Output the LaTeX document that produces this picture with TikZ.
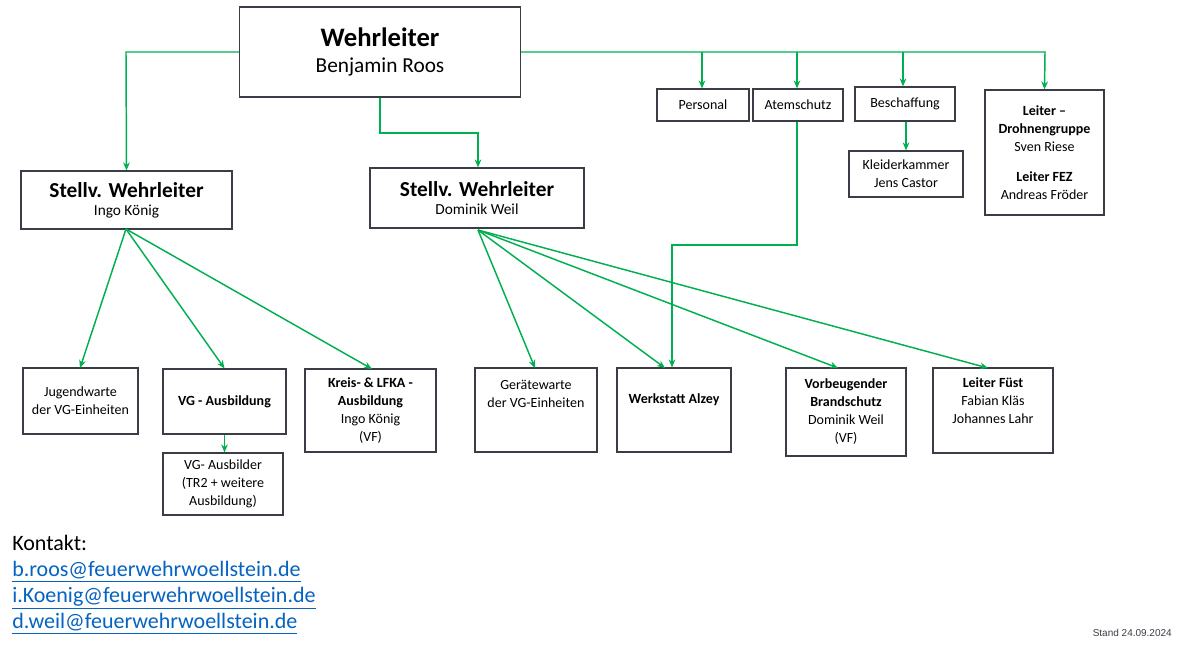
\documentclass[tikz,border=0pt]{standalone}
\usepackage{fontspec}
\setmainfont{Carlito}
\newfontfamily\arialf{Liberation Sans}
\usetikzlibrary{arrows.meta}
\definecolor{gr}{RGB}{0,176,80}
\definecolor{bc}{RGB}{60,60,70}
\definecolor{lk}{RGB}{5,99,193}
\begin{document}
\begin{tikzpicture}[x=0.75pt,y=-0.75pt,
  box/.style={draw=bc,line width=0.9pt,align=center,inner sep=0pt,font=\fontsize{10.5}{13.5}\selectfont},
  con/.style={draw=gr,line width=1.1pt},
  arr/.style={con,-{Stealth[length=6pt,width=5pt]}}]
\useasboundingbox[fill=white] (0,0) rectangle (1180,651);
\node[box,minimum width=281*0.75pt,minimum height=90*0.75pt] (wl) at (380,52) {{\fontsize{20}{24}\selectfont\bfseries Wehrleiter}\\[6pt]{\fontsize{16}{18}\selectfont Benjamin Roos}};
\node[box,minimum width=211*0.75pt,minimum height=58*0.75pt] (ik) at (126.5,200) {{\fontsize{16}{19}\selectfont\bfseries Stellv. Wehrleiter}\\{\fontsize{11.5}{14}\selectfont Ingo König}};
\node[box,minimum width=214*0.75pt,minimum height=60*0.75pt] (dw) at (477,198) {{\fontsize{16}{19}\selectfont\bfseries Stellv. Wehrleiter}\\{\fontsize{11.5}{14}\selectfont Dominik Weil}};
\node[box,minimum width=92*0.75pt,minimum height=32*0.75pt] (pe) at (703,105) {Personal};
\node[box,minimum width=90*0.75pt,minimum height=32*0.75pt] (at) at (798,105) {Atemschutz};
\node[box,minimum width=100*0.75pt,minimum height=34*0.75pt] (be) at (905,104) {Beschaffung};
\node[box,minimum width=114*0.75pt,minimum height=46*0.75pt] (kk) at (906,174) {Kleiderkammer\\Jens Castor};
\node[box,minimum width=119*0.75pt,minimum height=125*0.75pt] (dr) at (1044.5,152.5) {\textbf{Leiter --}\\\textbf{Drohnengruppe}\\Sven Riese\\[9pt]\textbf{Leiter FEZ}\\Andreas Fröder};
\node[box,minimum width=115*0.75pt,minimum height=66*0.75pt] (jw) at (80.5,401) {Jugendwarte\\der VG-Einheiten};
\node[box,minimum width=123*0.75pt,minimum height=65*0.75pt] (va) at (224.5,401.5) {\textbf{VG - Ausbildung}};
\node[box,minimum width=120*0.75pt,minimum height=62*0.75pt] (vb) at (223,484) {VG- Ausbilder\\(TR2 + weitere\\Ausbildung)};
\node[box,minimum width=131*0.75pt,minimum height=83*0.75pt] (kr) at (370.5,410.5) {\textbf{Kreis- \& LFKA -}\\\textbf{Ausbildung}\\Ingo König\\(VF)};
\node[box,minimum width=122*0.75pt,minimum height=84*0.75pt] (gw) at (536,410) {Gerätewarte\\der VG-Einheiten\\[10pt]};
\node[box,minimum width=114*0.75pt,minimum height=84*0.75pt] (ws) at (674,410) {\textbf{Werkstatt Alzey}\\[4pt]};
\node[box,minimum width=120*0.75pt,minimum height=88*0.75pt] (vo) at (846,412) {\textbf{Vorbeugender}\\\textbf{Brandschutz}\\Dominik Weil\\(VF)};
\node[box,minimum width=120*0.75pt,minimum height=85*0.75pt] (fu) at (993,410.5) {\textbf{Leiter Füst}\\Fabian Kläs\\Johannes Lahr\\[2pt]};
% connectors
\coordinate (c1) at (126,52);
\draw[arr] (wl.west) -- (c1) -- (ik.north);
\coordinate (c2) at (380,133); \coordinate (c3) at (478,133);
\draw[arr] (wl.south) -- (c2) -- (c3) -- (dw.north -| c3);
\coordinate (c4) at (1045,52);
\draw[arr] (wl.east) -- (c4) -- (dr.north);
\foreach \n/\x in {pe/702,at/797,be/903}{
  \coordinate (t\n) at (\x,52);
  \draw[arr] (t\n) -- (\n.north -| t\n);}
\draw[arr] (be.south -| kk.north) -- (kk.north);
\coordinate (c5) at (797,245); \coordinate (c6) at (672,245);
\draw[arr] (at.south -| c5) -- (c5) -- (c6) -- (ws.north -| c6);
\coordinate (i0) at (126,229);
\draw[arr] (i0) -- (80,368);
\draw[arr] (i0) -- (va.north);
\draw[arr] (i0) -- (372,369);
\coordinate (d0) at (478,230);
\draw[arr] (d0) -- (535,368);
\draw[arr] (d0) -- (665,368);
\draw[arr] (d0) -- (838,368);
\draw[arr] (d0) -- (988,368);
\draw[arr] (va.south) -- (vb.north -| va.south);
% footer
\node[anchor=north west,align=left,inner sep=0pt,font=\fontsize{16.5}{19.5}\selectfont] (ko) at (12,535) {Kontakt:\\
\textcolor{lk}{\underline{b.roos@feuerwehrwoellstein.de}}\\
\textcolor{lk}{\underline{i.Koenig@feuerwehrwoellstein.de}}\\
\textcolor{lk}{\underline{d.weil@feuerwehrwoellstein.de}}};
\node[anchor=east,inner sep=0pt,font=\arialf\fontsize{7.5}{9}\selectfont,text=bc] (st) at (1172,633) {Stand 24.09.2024};
\end{tikzpicture}
\end{document}
